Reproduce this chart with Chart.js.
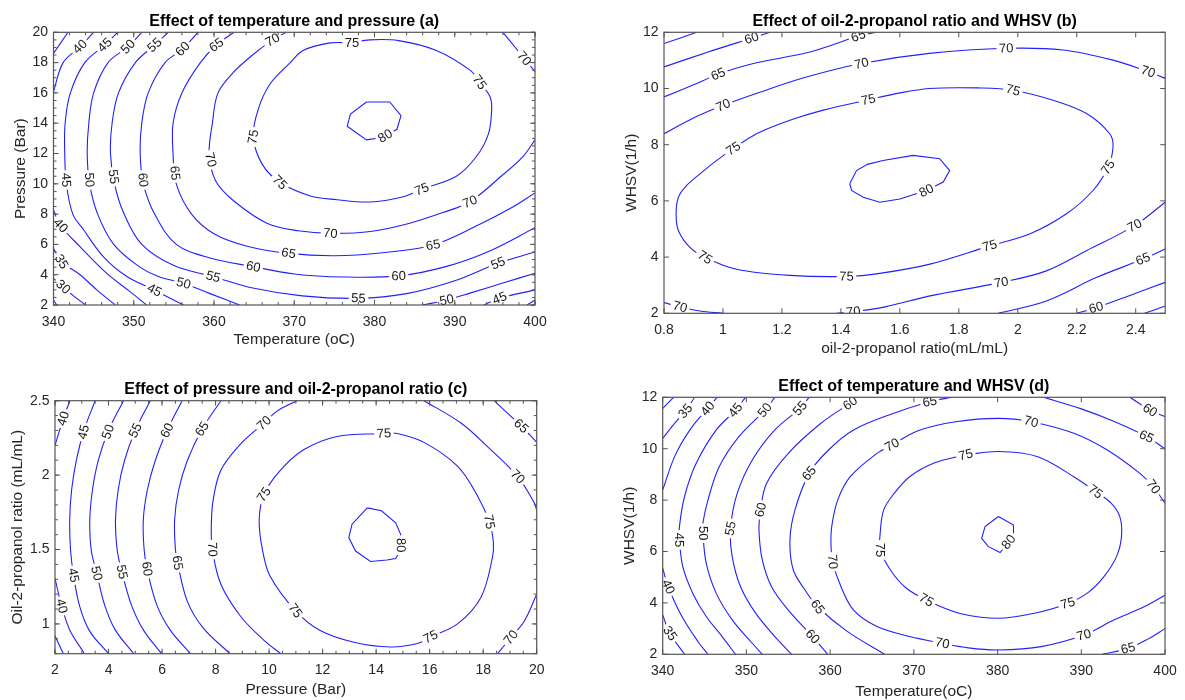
<!DOCTYPE html>
<html>
<head>
<meta charset="utf-8">
<title>Response surface contours</title>
<script src="https://cdn.jsdelivr.net/npm/chart.js@4.4.1/dist/chart.umd.min.js"></script>
<style>
  body { margin: 0; background: #fff; }
  canvas { position: absolute; }
</style>
</head>
<body>
<canvas id="chartA" width="592" height="362" style="left:0;top:0"></canvas>
<canvas id="chartB" width="593" height="362" style="left:592px;top:0"></canvas>
<canvas id="chartC" width="592" height="338" style="left:0;top:362px"></canvas>
<canvas id="chartD" width="593" height="338" style="left:592px;top:362px"></canvas>
<script>
// ---- (a) temperature vs pressure ----
const xTicksA = [340, 350, 360, 370, 380, 390, 400];
const yTicksA = [2, 4, 6, 8, 10, 12, 14, 16, 18, 20];
const curvesA = [
  [25, [[340, 2.33], [340.4, 2]]],
  [30, [[340, 3.76], [341.2, 3.2], [342.5, 2.6], [344, 2]]],
  [35, [[340, 5.74], [341, 4.86], [343.3, 4], [345.4, 3], [347.7, 2]]],
  [35, [[340, 18.6], [341.8, 20]]],
  [40, [[340, 8.27], [340.8, 7.3], [343.3, 5.85], [346.6, 4.1], [349.5, 2.9], [351.6, 2]]],
  [40, [[340, 16.08], [341.2, 18], [343.3, 19.05], [345, 20]]],
  [40, [[399, 2], [400, 2.33]]],
  [45, [[348, 20], [346.4, 19.16], [343.9, 18], [342.1, 16], [341.45, 14], [341.4, 12], [341.6, 10], [342.4, 8], [343.7, 7], [346.2, 5.2], [349.1, 3.9], [352.5, 3], [356.2, 2]]],
  [45, [[393.6, 2], [395.6, 2.44], [400, 3]]],
  [50, [[351, 20], [349.3, 19.05], [346.8, 18], [345, 16], [344.4, 14], [344.2, 12], [344.5, 10], [345.5, 8], [347.5, 6], [350.5, 4.6], [353, 3.9], [356.2, 3.43], [359.5, 2.75], [363.2, 2]]],
  [50, [[386, 2], [389, 2.33], [392, 2.8], [396, 3.45], [400, 4.1]]],
  [55, [[354.3, 20], [352.6, 19.16], [350.2, 18], [348.1, 16], [347.3, 14], [347.1, 12], [347.6, 10], [348.8, 8], [351, 6], [355, 4.6], [359.9, 3.87], [365, 3.1], [371, 2.6], [378, 2.44], [384, 2.75], [390, 3.6], [395.4, 4.75], [400, 5.5]]],
  [60, [[358, 20], [356.1, 18.9], [353.9, 18], [351.8, 16], [351, 14], [350.8, 12], [351.2, 10], [352.6, 8], [355.3, 6], [359.5, 5.1], [364.9, 4.53], [370, 4.05], [376, 3.85], [383, 3.92], [389, 4.55], [394.5, 5.6], [400, 7.1]]],
  [65, [[362.5, 20], [360.3, 19.16], [358.3, 18], [356, 16], [354.9, 14], [354.9, 12], [355.3, 10], [357.2, 8], [360, 6.7], [364, 5.9], [369.3, 5.41], [375, 5.25], [381, 5.45], [387.3, 5.96], [393, 7.3], [397, 8.4], [400, 9.4]]],
  [70, [[369, 20], [367.3, 19.5], [364.8, 18.5], [362.5, 17.4], [360.5, 16], [359.8, 14], [359.4, 12], [360.2, 10.2], [362.4, 8.9], [366.6, 7.4], [370.5, 6.9], [374.5, 6.73], [379.5, 6.85], [384.4, 7.4], [388.5, 8.1], [391.9, 8.82], [396, 10.6], [398.5, 11.8], [400, 12.9]]],
  [70, [[396, 20], [398, 18.7], [400, 17.4]]],
  [75, [[377.2, 19.3], [374.5, 19.3], [371.1, 18.8], [369.5, 18], [367, 16.6], [365.5, 14.9], [364.9, 13.1], [366, 11.3], [368.2, 10.1], [372, 9.2], [375.3, 8.95], [379.4, 8.8], [383.6, 9.15], [385.9, 9.64], [390.2, 10.5], [392.7, 11.8], [394.2, 13.3], [394.6, 14.9], [394.4, 15.75], [393.1, 16.7], [391.9, 17.5], [387.7, 18.8], [383, 19.45], [379.4, 19.5], [377.2, 19.3]]],
  [80, [[379, 15.4], [381.9, 15.4], [383.3, 14.5], [382.8, 13.6], [381, 13.05], [379, 12.9], [376.6, 13.8], [377, 14.6], [379, 15.4]]]
];
const labelsA = [
  [343.3, 19.05, 40], [346.4, 19.16, 45], [349.3, 19.05, 50], [352.6, 19.16, 55], [356.1, 18.9, 60],
  [360.3, 19.16, 65], [367.3, 19.5, 70], [377.2, 19.3, 75], [398.5, 18.2, 70], [393.1, 16.7, 75],
  [381.3, 13.2, 80], [364.9, 13.1, 75], [341.5, 10.25, 45], [344.4, 10.25, 50], [347.5, 10.47, 55],
  [351, 10.25, 60], [354.9, 10.7, 65], [359.5, 11.57, 70], [368.2, 10.1, 75], [385.9, 9.64, 75],
  [391.9, 8.82, 70], [374.5, 6.73, 70], [369.3, 5.41, 65], [387.3, 5.96, 65], [364.9, 4.53, 60],
  [383, 3.92, 60], [359.9, 3.87, 55], [378, 2.44, 55], [395.4, 4.75, 55], [356.2, 3.43, 50],
  [389, 2.33, 50], [352.6, 3.0, 45], [395.6, 2.44, 45], [340.8, 7.2, 40], [341, 4.86, 35], [341.2, 3.2, 30]
];

// ---- (b) oil-2-propanol ratio vs WHSV ----
const xTicksB = [0.8, 1, 1.2, 1.4, 1.6, 1.8, 2, 2.2, 2.4];
const yTicksB = [2, 4, 6, 8, 10, 12];
const curvesB = [
  [55, [[0.8, 11.6], [0.911, 12]]],
  [60, [[0.8, 10.77], [0.95, 11.3], [1.097, 11.79], [1.16, 12]]],
  [65, [[0.8, 9.7], [0.9, 10.13], [0.984, 10.51], [1.1, 10.88], [1.284, 11.27], [1.38, 11.58], [1.459, 11.87], [1.52, 12]]],
  [70, [[0.8, 8.39], [0.9, 8.95], [1.001, 9.4], [1.12, 9.85], [1.28, 10.4], [1.47, 10.89], [1.7, 11.25], [1.961, 11.43], [2.153, 11.37], [2.323, 11.01], [2.442, 10.6], [2.5, 10.36]]],
  [75, [[1.493, 9.6], [1.34, 9.23], [1.227, 8.87], [1.114, 8.39], [1.035, 7.86], [0.979, 7.44], [0.922, 6.96], [0.877, 6.55], [0.849, 6.13], [0.841, 5.54], [0.849, 4.94], [0.888, 4.35], [0.939, 3.99], [1.046, 3.57], [1.227, 3.35], [1.419, 3.31], [1.532, 3.42], [1.702, 3.75], [1.905, 4.4], [2.04, 4.82], [2.165, 5.54], [2.255, 6.37], [2.306, 7.2], [2.323, 7.92], [2.312, 8.39], [2.233, 9.11], [2.12, 9.58], [1.984, 9.94], [1.871, 10.02], [1.7, 10.0], [1.58, 9.8], [1.493, 9.6]]],
  [80, [[1.43, 6.61], [1.453, 7.08], [1.49, 7.3], [1.543, 7.44], [1.645, 7.62], [1.735, 7.5], [1.769, 7.08], [1.747, 6.67], [1.69, 6.37], [1.6, 6.07], [1.532, 5.95], [1.476, 6.13], [1.436, 6.37], [1.43, 6.61]]],
  [70, [[0.8, 2.38], [0.854, 2.23], [0.922, 2.08], [1, 2]]],
  [70, [[1.385, 2], [1.442, 2.06], [1.55, 2.23], [1.702, 2.62], [1.944, 3.1], [2.097, 3.51], [2.233, 4.23], [2.396, 5.12], [2.5, 5.95]]],
  [65, [[1.933, 2], [2.097, 2.44], [2.266, 3.27], [2.425, 3.93], [2.5, 4.29]]],
  [60, [[2.199, 2], [2.266, 2.2], [2.391, 2.68], [2.5, 3.1]]],
  [55, [[2.43, 2], [2.5, 2.26]]]
];
const labelsB = [
  [1.097, 11.79, 60], [0.984, 10.51, 65], [1.459, 11.87, 65], [1.001, 9.4, 70], [1.47, 10.89, 70],
  [1.961, 11.43, 70], [2.442, 10.6, 70], [1.493, 9.6, 75], [1.984, 9.94, 75], [2.306, 7.2, 75],
  [1.035, 7.86, 75], [0.939, 3.99, 75], [1.419, 3.31, 75], [1.905, 4.4, 75], [1.69, 6.37, 80],
  [0.854, 2.23, 70], [1.442, 2.06, 70], [1.944, 3.1, 70], [2.396, 5.12, 70], [2.425, 3.93, 65], [2.266, 2.2, 60]
];

// ---- (c) pressure vs oil-2-propanol ratio ----
const xTicksC = [2, 4, 6, 8, 10, 12, 14, 16, 18, 20];
const yTicksC = [1, 1.5, 2, 2.5];
const curvesC = [
  [35, [[2, 0.92], [2.31, 0.8]]],
  [40, [[2, 2.2], [2.31, 2.38], [2.56, 2.5]]],
  [40, [[2, 1.305], [2.25, 1.12], [2.55, 0.96], [3.1, 0.8]]],
  [45, [[3.5, 2.5], [3.08, 2.3], [2.8, 2.1], [2.62, 1.9], [2.55, 1.7], [2.58, 1.5], [2.69, 1.33], [2.92, 1.12], [3.3, 0.95], [4, 0.8]]],
  [50, [[4.56, 2.5], [4, 2.3], [3.62, 2.1], [3.4, 1.9], [3.3, 1.7], [3.35, 1.5], [3.56, 1.34], [3.85, 1.13], [4.25, 0.96], [4.94, 0.8]]],
  [55, [[5.56, 2.5], [5, 2.3], [4.6, 2.1], [4.36, 1.9], [4.26, 1.7], [4.32, 1.5], [4.5, 1.35], [4.85, 1.13], [5.3, 0.96], [5.98, 0.8]]],
  [60, [[6.75, 2.5], [6.19, 2.3], [5.75, 2.1], [5.45, 1.9], [5.3, 1.7], [5.33, 1.5], [5.44, 1.37], [5.8, 1.13], [6.3, 0.96], [7.06, 0.8]]],
  [65, [[8.2, 2.5], [7.5, 2.31], [6.95, 2.1], [6.62, 1.9], [6.47, 1.7], [6.5, 1.5], [6.58, 1.41], [6.95, 1.15], [7.55, 0.97], [8.54, 0.8]]],
  [70, [[11.04, 2.5], [10.3, 2.43], [9.81, 2.35], [8.94, 2.21], [8.19, 2.03], [7.9, 1.82], [7.84, 1.63], [7.88, 1.5], [8.19, 1.27], [8.94, 1.05], [9.81, 0.89], [10.44, 0.8]]],
  [70, [[15.79, 2.5], [17.17, 2.35], [18.17, 2.19], [19.29, 1.99], [19.92, 1.81], [20, 1.76]]],
  [70, [[20, 1.2], [19.54, 1.02], [19.04, 0.91], [18.54, 0.8]]],
  [65, [[18.41, 2.5], [19.42, 2.33], [20, 2.22]]],
  [75, [[14.29, 2.28], [12.54, 2.26], [11.29, 2.17], [10.41, 2.03], [9.81, 1.87], [9.63, 1.7], [9.75, 1.5], [10.04, 1.32], [10.98, 1.09], [11.91, 0.956], [13.17, 0.877], [14.54, 0.845], [15.54, 0.868], [16.04, 0.913], [17.04, 1.0], [17.92, 1.18], [18.35, 1.45], [18.38, 1.55], [18.23, 1.686], [17.79, 1.86], [17.04, 2.06], [15.79, 2.22], [14.79, 2.28], [14.29, 2.28]]],
  [80, [[13.67, 1.78], [14.2, 1.76], [14.73, 1.68], [14.92, 1.6], [14.93, 1.5], [14.73, 1.44], [14.4, 1.43], [13.79, 1.42], [13.23, 1.49], [12.98, 1.58], [13.1, 1.67], [13.67, 1.78]]]
];
const labelsC = [
  [2.31, 2.38, 40], [3.06, 2.29, 45], [4.0, 2.29, 50], [5.0, 2.3, 55], [6.19, 2.3, 60], [7.5, 2.31, 65],
  [9.81, 2.35, 70], [2.69, 1.327, 45], [3.56, 1.34, 50], [4.5, 1.35, 55], [5.44, 1.37, 60], [6.56, 1.41, 65],
  [7.88, 1.5, 70], [2.25, 1.12, 40], [9.81, 1.87, 75], [14.29, 2.28, 75], [18.23, 1.686, 75], [10.98, 1.09, 75],
  [16.04, 0.913, 75], [14.92, 1.53, 80], [19.42, 2.33, 65], [19.29, 1.99, 70], [19.04, 0.91, 70]
];

// ---- (d) temperature vs WHSV ----
const xTicksD = [340, 350, 360, 370, 380, 390, 400];
const yTicksD = [2, 4, 6, 8, 10, 12];
const curvesD = [
  [30, [[340, 11.57], [341.3, 12]]],
  [35, [[340, 10.4], [341.25, 10.92], [342.8, 11.5], [343.8, 12]]],
  [35, [[340, 3.53], [340.86, 2.82], [342.6, 2]]],
  [40, [[340, 8.4], [341.5, 9.75], [343.4, 10.8], [345.4, 11.57], [346.5, 12]]],
  [40, [[340, 5.35], [340.66, 4.63], [342.2, 3.53], [344.2, 2.5], [345.4, 2]]],
  [45, [[349.9, 12], [348.7, 11.5], [346.4, 10.73], [344, 9.43], [342.6, 8.13], [342, 6.97], [342, 6.45], [342.4, 5.41], [343.6, 4.37], [345.2, 3.47], [347.1, 2.69], [348.7, 2]]],
  [50, [[353.4, 12], [352.2, 11.5], [349.1, 10.47], [346.75, 9.3], [345.4, 8], [344.8, 7.1], [344.8, 6.71], [345.2, 5.54], [346.4, 4.37], [348.3, 3.34], [350.7, 2.43], [351.9, 2]]],
  [55, [[357.5, 12], [356.4, 11.57], [353.4, 10.73], [350.7, 9.56], [348.9, 8.26], [348.1, 6.9], [348.3, 5.8], [349.3, 4.63], [351.1, 3.6], [353.4, 2.69], [355.4, 2]]],
  [60, [[363.4, 12], [362.4, 11.77], [358.9, 10.99], [355, 9.82], [352.4, 8.65], [351.7, 7.62], [351.5, 6.84], [351.9, 5.67], [353, 4.63], [355, 3.72], [357.9, 2.69], [359.7, 2]]],
  [65, [[374.6, 12], [371.9, 11.83], [367.6, 11.38], [362.8, 10.73], [359.8, 9.95], [357.5, 9.04], [355.8, 7.62], [355.2, 6.45], [355.6, 5.28], [357, 4.5], [358.5, 3.85], [362, 2.9], [366.5, 2]]],
  [70, [[400, 7.88], [398.6, 8.52], [397, 9.04], [393.1, 9.95], [389.1, 10.6], [384, 11.05], [380.1, 11.18], [375, 11.05], [370.5, 10.7], [367.4, 10.15], [365.6, 9.82], [362.4, 8.91], [360.9, 8.0], [360.2, 7.0], [360.1, 6.3], [360.3, 5.6], [361.3, 4.63], [362.8, 3.72], [365.6, 3.08], [369.5, 2.69], [373.4, 2.43], [376.5, 2.25], [380.1, 2.17], [385.2, 2.3], [390.3, 2.75], [394, 3.35], [397.5, 3.85], [400, 4.3]]],
  [60, [[395.8, 12], [398.2, 11.5], [400, 11.25]]],
  [65, [[385.5, 12], [390, 11.55], [394, 11.05], [397.8, 10.47], [400, 10]]],
  [65, [[392.5, 2], [395.6, 2.23], [398, 2.6], [400, 3.0]]],
  [75, [[376.2, 9.76], [372.5, 9.45], [369.5, 8.91], [367.5, 8.2], [366.4, 7.62], [366, 6.8], [366, 6.06], [367.2, 5.28], [369, 4.6], [371.5, 4.11], [375.4, 3.6], [380.1, 3.4], [384.4, 3.6], [388.4, 3.98], [390.8, 4.4], [392.7, 5.02], [394.2, 5.8], [394.8, 6.58], [394.6, 7.36], [393.5, 7.9], [391.7, 8.33], [389.1, 8.91], [384.8, 9.69], [380.1, 9.89], [376.2, 9.76]]],
  [80, [[380.1, 7.36], [381.9, 7.03], [381.9, 6.6], [380.3, 5.96], [378.9, 6.19], [378.1, 6.51], [378.5, 6.97], [380.1, 7.36]]]
];
const labelsD = [
  [342.8, 11.44, 35], [345.6, 11.5, 40], [348.7, 11.5, 45], [352.2, 11.5, 50], [356.4, 11.57, 55],
  [362.4, 11.77, 60], [371.9, 11.83, 65], [357.5, 9.04, 65], [351.7, 7.62, 60], [348.1, 6.9, 55],
  [344.8, 6.71, 50], [342, 6.45, 45], [340.7, 4.63, 40], [340.9, 2.82, 35], [360.3, 5.6, 70],
  [358.5, 3.85, 65], [357.9, 2.69, 60], [366, 6.06, 75], [367.4, 10.15, 70], [384, 11.05, 70],
  [376.2, 9.76, 75], [391.7, 8.33, 75], [381.4, 6.35, 80], [371.5, 4.11, 75], [388.4, 3.98, 75],
  [373.4, 2.43, 70], [390.3, 2.75, 70], [395.6, 2.23, 65], [398.2, 11.5, 60], [397.8, 10.47, 65], [398.6, 8.52, 70]
];

const FONT = '"Liberation Sans", Arial, Helvetica, sans-serif';
const LINE_BLUE = '#2020ff';
const AXIS_GRAY = '#555';
const TEXT_DARK = '#262626';

function steps(min, max, step) {
  const out = [];
  const n = Math.round((max - min) / step);
  for (let i = 0; i <= n; i++) out.push(min + i * step);
  return out;
}

function axis(min, max, ticks, dir) {
  return {
    type: 'linear', min, max,
    grid: { display: false, drawTicks: false },
    border: { display: false },
    afterBuildTicks: s => { s.ticks = ticks.map(value => ({ value })); },
    afterFit: s => { if (dir === 'x') s.height = 40; else s.width = 44; },
    ticks: {
      autoSkip: false, maxRotation: 0,
      padding: dir === 'x' ? 8.3 : 5.5,
      color: TEXT_DARK,
      font: { family: FONT, size: 14 },
      callback: v => String(v)
    }
  };
}

// contour labels sit on the nearest segment of their own level, with a white gap
function drawLabels(chart, cfg) {
  const { ctx, chartArea: a } = chart;
  const sx = chart.scales.x, sy = chart.scales.y;
  ctx.save();
  ctx.beginPath();
  ctx.rect(a.left, a.top, a.right - a.left, a.bottom - a.top);
  ctx.clip();
  ctx.font = '13px ' + FONT;
  ctx.textAlign = 'center';
  ctx.textBaseline = 'middle';
  cfg.labels.forEach(([lx, ly, level]) => {
    const px = sx.getPixelForValue(lx), py = sy.getPixelForValue(ly);
    let best = null;
    cfg.curves.forEach(([lev, pts]) => {
      if (lev !== level) return;
      for (let i = 0; i < pts.length - 1; i++) {
        const x1 = sx.getPixelForValue(pts[i][0]), y1 = sy.getPixelForValue(pts[i][1]);
        const x2 = sx.getPixelForValue(pts[i + 1][0]), y2 = sy.getPixelForValue(pts[i + 1][1]);
        const dx = x2 - x1, dy = y2 - y1, len2 = dx * dx + dy * dy;
        let t = len2 ? ((px - x1) * dx + (py - y1) * dy) / len2 : 0;
        t = Math.max(0, Math.min(1, t));
        const qx = x1 + t * dx, qy = y1 + t * dy;
        const d = (qx - px) ** 2 + (qy - py) ** 2;
        if (!best || d < best.d) best = { d, qx, qy, ang: Math.atan2(dy, dx) };
      }
    });
    if (!best) return;
    let ang = best.ang;
    if (ang > Math.PI / 2) ang -= Math.PI;
    if (ang <= -Math.PI / 2) ang += Math.PI;
    const txt = String(level);
    const w = ctx.measureText(txt).width + 5;
    ctx.save();
    ctx.translate(best.qx, best.qy);
    ctx.rotate(ang);
    ctx.fillStyle = '#fff';
    ctx.fillRect(-w / 2, -6.5, w, 13);
    ctx.fillStyle = '#1a1a1a';
    ctx.fillText(txt, 0, 0.5);
    ctx.restore();
  });
  ctx.restore();
}

function drawBox(chart, cfg) {
  const { ctx, chartArea: a } = chart;
  const sx = chart.scales.x, sy = chart.scales.y;
  ctx.save();
  ctx.strokeStyle = AXIS_GRAY;
  ctx.lineWidth = 1;
  ctx.beginPath();
  const xMark = (v, len) => {
    const p = sx.getPixelForValue(v);
    ctx.moveTo(p, a.bottom); ctx.lineTo(p, a.bottom - len);
    ctx.moveTo(p, a.top); ctx.lineTo(p, a.top + len);
  };
  const yMark = (v, len) => {
    const p = sy.getPixelForValue(v);
    ctx.moveTo(a.left, p); ctx.lineTo(a.left + len, p);
    ctx.moveTo(a.right, p); ctx.lineTo(a.right - len, p);
  };
  if (cfg.xMinor) steps(cfg.xMin, cfg.xMax, cfg.xMinor).forEach(v => xMark(v, 3));
  if (cfg.yMinor) steps(cfg.yMin, cfg.yMax, cfg.yMinor).forEach(v => yMark(v, 3));
  cfg.xTicks.forEach(v => xMark(v, 5));
  cfg.yTicks.forEach(v => yMark(v, 5));
  ctx.stroke();
  ctx.lineWidth = 1.2;
  ctx.strokeRect(a.left, a.top, a.right - a.left, a.bottom - a.top);

  const cx = (a.left + a.right) / 2, cy = (a.top + a.bottom) / 2;
  ctx.textAlign = 'center';
  ctx.fillStyle = '#000';
  ctx.font = 'bold 16px ' + FONT;
  ctx.textBaseline = 'alphabetic';
  ctx.fillText(cfg.title, cx, a.top - 6.5);

  ctx.fillStyle = TEXT_DARK;
  ctx.font = '15.5px ' + FONT;
  ctx.textBaseline = 'middle';
  ctx.fillText(cfg.xTitle, cx, a.bottom + cfg.xTitleGap);
  ctx.save();
  ctx.translate(a.left - cfg.yTitleGap, cy);
  ctx.rotate(-Math.PI / 2);
  ctx.fillText(cfg.yTitle, 0, 0);
  ctx.restore();
  ctx.restore();
}

function makeContourChart(id, cfg) {
  const innermost = Math.max(...cfg.curves.map(c => c[0]));
  return new Chart(document.getElementById(id), {
    type: 'scatter',
    data: {
      datasets: cfg.curves.map(([level, pts]) => ({
        label: String(level),
        data: pts.map(([x, y]) => ({ x, y })),
        showLine: true,
        borderColor: LINE_BLUE,
        borderWidth: 1.1,
        pointRadius: 0,
        pointHoverRadius: 0,
        tension: level === innermost ? 0 : 0.35
      }))
    },
    options: {
      responsive: false,
      animation: false,
      events: [],
      layout: { autoPadding: false, padding: cfg.padding },
      elements: { line: { capBezierPoints: false } },
      plugins: { legend: { display: false }, tooltip: { enabled: false } },
      scales: {
        x: axis(cfg.xMin, cfg.xMax, cfg.xTicks, 'x'),
        y: axis(cfg.yMin, cfg.yMax, cfg.yTicks, 'y')
      }
    },
    plugins: [{
      id: 'contourDecor',
      afterDatasetsDraw: chart => drawLabels(chart, cfg),
      afterDraw: chart => drawBox(chart, cfg)
    }]
  });
}

makeContourChart('chartA', {
  curves: curvesA, labels: labelsA, xTicks: xTicksA, yTicks: yTicksA,
  xMin: 340, xMax: 400, yMin: 2, yMax: 20, xMinor: 2, yMinor: 0.5,
  padding: { left: 9.5, top: 32.3, right: 57, bottom: 17 },
  title: 'Effect of temperature and pressure (a)',
  xTitle: 'Temperature (oC)', yTitle: 'Pressure (Bar)',
  xTitleGap: 35, yTitleGap: 32.8
});

makeContourChart('chartB', {
  curves: curvesB, labels: labelsB, xTicks: xTicksB, yTicks: yTicksB,
  xMin: 0.8, xMax: 2.5, yMin: 2, yMax: 12,
  padding: { left: 28, top: 32.3, right: 19.8, bottom: 8.7 },
  title: 'Effect of oil-2-propanol ratio and WHSV (b)',
  xTitle: 'oil-2-propanol ratio(mL/mL)', yTitle: 'WHSV(1/h)',
  xTitleGap: 35, yTitleGap: 32.3
});

makeContourChart('chartC', {
  curves: curvesC, labels: labelsC, xTicks: xTicksC, yTicks: yTicksC,
  xMin: 2, xMax: 20, yMin: 0.8, yMax: 2.5, xMinor: 0.5, yMinor: 0.1,
  padding: { left: 11, top: 38.7, right: 55.3, bottom: 6.3 },
  title: 'Effect of pressure and oil-2-propanol ratio (c)',
  xTitle: 'Pressure (Bar)', yTitle: 'Oil-2-propanol ratio (mL/mL)',
  xTitleGap: 36.3, yTitleGap: 37.7
});

makeContourChart('chartD', {
  curves: curvesD, labels: labelsD, xTicks: xTicksD, yTicks: yTicksD,
  xMin: 340, xMax: 400, yMin: 2, yMax: 12,
  padding: { left: 26.7, top: 35.3, right: 12.7, bottom: 5.7 },
  title: 'Effect of temperature and WHSV (d)',
  xTitle: 'Temperature(oC)', yTitle: 'WHSV(1/h)',
  xTitleGap: 37, yTitleGap: 33.4
});
</script>
</body>
</html>
